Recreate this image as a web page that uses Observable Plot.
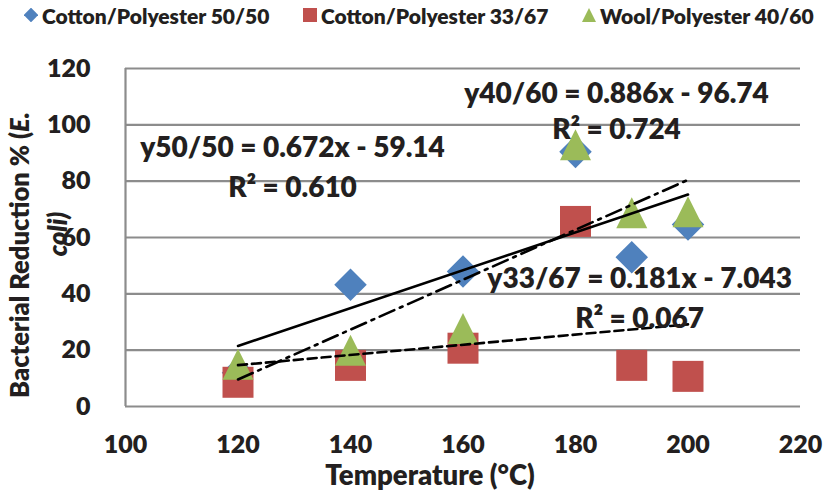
<!DOCTYPE html>
<html>
<head>
<meta charset="utf-8">
<script src="https://cdn.jsdelivr.net/npm/d3@7"></script>
<script src="https://cdn.jsdelivr.net/npm/@observablehq/plot@0.6"></script>
<style>
  html, body { margin: 0; padding: 0; background: #fff; }
  body { width: 830px; height: 498px; overflow: hidden; font-family: Lato, "Open Sans", sans-serif; }
  #legend { height: 30px; position: relative; font-weight: 800; font-size: 21px; color: #231f20; }
  .item { position: absolute; top: 0; height: 30px; display: flex; align-items: center; white-space: nowrap; }
  .item svg { margin-right: 4px; }
  #chart svg { display: block; }
</style>
</head>
<body>
<div id="legend"></div>
<div id="chart"></div>
<script>
// ---- data ----
const temps = [120, 140, 160, 180, 190, 200];
const cp5050 = [12, 43.2, 47.9, 90.4, 53, 64.6];
const cp3367 = [8.6, 14.6, 20.7, 65.7, 14.6, 10.7];
const wp4060 = [15, 20, 27.7, 92.9, 68.8, 69.1];
const seriesNames = ["Cotton/Polyester 50/50", "Cotton/Polyester 33/67", "Wool/Polyester 40/60"];
const eqNames = ["y50/50", "y33/67", "y40/60"];
const slopes = [0.672, 0.181, 0.886];
const intercepts = [-59.14, -7.043, -96.74];
const r2Values = ["0.610", "0.067", "0.724"];
const xTicks = [100, 120, 140, 160, 180, 200, 220];
const yTicks = [0, 20, 40, 60, 80, 100, 120];

// ---- styles ----
const colors = ["#4f81bd", "#c0504d", "#9bbb59"];
const dashes = [null, "9,5", "16,6,3,6"];
const gridColor = "#8c8c8c";
const textColor = "#231f20";
const font = "Lato, 'Open Sans', sans-serif";
const H = 468;

// custom Excel-like symbols; r = half of the bounding box
function half(size) { return Math.sqrt(size / Math.PI); }
const symDiamond = {draw(c, s) { const h = half(s) * 1.05; c.moveTo(0, -h); c.lineTo(h, 0); c.lineTo(0, h); c.lineTo(-h, 0); c.closePath(); }};
const symSquare = {draw(c, s) { const h = half(s); c.rect(-h, -h, 2 * h, 2 * h); }};
const symTriangle = {draw(c, s) { const h = half(s); c.moveTo(0, -h); c.lineTo(h, h); c.lineTo(-h, h); c.closePath(); }};
const symbols = [symDiamond, symSquare, symTriangle];

const seriesValues = [cp5050, cp3367, wp4060];
const points = [];
seriesValues.forEach((vals, si) => vals.forEach((v, i) => points.push({s: si, x: temps[i], y: v})));

const xMin = d3.min(temps), xMax = d3.max(temps);
const trends = seriesNames.map((n, si) => [xMin, xMax].map(x => ({s: si, x, y: slopes[si] * x + intercepts[si]})));

// label anchors (data coordinates)
const eqAnchors = [
  {x: 129.7, y: 91.9, r2y: 77.7},
  {x: 191.4, y: 45.4, r2y: 31.2},
  {x: 187.3, y: 111.1, r2y: 98.0}
];
const eqLabels = [];
seriesNames.forEach((n, si) => {
  eqLabels.push({x: eqAnchors[si].x, y: eqAnchors[si].y, t: `${eqNames[si]} = ${slopes[si]}x - ${Math.abs(intercepts[si])}`});
  eqLabels.push({x: eqAnchors[si].x, y: eqAnchors[si].r2y, t: `R² = ${r2Values[si]}`});
});

const plot = Plot.plot({
  width: 830, height: H,
  marginLeft: 125, marginRight: 30, marginTop: 38, marginBottom: 92,
  style: {fontFamily: font, background: "#fff", overflow: "visible"},
  x: {domain: [100, 220], ticks: xTicks},
  y: {domain: [0, 120], ticks: yTicks},
  marks: [
    Plot.ruleY(yTicks, {stroke: gridColor, strokeWidth: 2.2}),
    Plot.ruleX([100], {stroke: gridColor, strokeWidth: 2.2}),
    Plot.axisX({ticks: xTicks, tickSize: 0, tickPadding: 38, lineAnchor: "middle", label: null,
      fontSize: 25, fontWeight: 800, fill: textColor}),
    Plot.axisY({ticks: yTicks, tickSize: 0, tickPadding: 35, label: null,
      fontSize: 25, fontWeight: 800, fill: textColor}),
    ...[0, 1, 2].map(si => Plot.dot(points.filter(d => d.s === si), {
      x: "x", y: "y", r: 15.5, symbol: () => symbols[si], fill: colors[si], stroke: "none"
    })),
    ...[0, 1, 2].map(si => Plot.line(trends[si], {
      x: "x", y: "y", stroke: "#000", strokeWidth: 2.6, strokeDasharray: dashes[si]
    })),
    Plot.text(eqLabels, {x: "x", y: "y", text: "t", fontSize: 28, fontWeight: 800, fill: textColor})
  ]
});
document.getElementById("chart").appendChild(plot);

// axis titles with mixed styling
const svg = d3.select(plot);
svg.append("text")
  .attr("x", 430).attr("y", 455)
  .attr("text-anchor", "middle")
  .attr("font-size", 27.5).attr("font-weight", 800).attr("fill", textColor)
  .text("Temperature (°C)");
const yt = svg.append("g").attr("font-size", 25.5).attr("font-weight", 800).attr("fill", textColor);
const l1 = yt.append("text").attr("transform", "translate(22,225) rotate(-90)")
  .attr("text-anchor", "middle").attr("dominant-baseline", "middle");
l1.append("tspan").text("Bacterial Reduction % (");
l1.append("tspan").attr("font-style", "italic").text("E.");
yt.append("text").attr("transform", "translate(60,204) rotate(-90)")
  .attr("text-anchor", "middle").attr("dominant-baseline", "middle")
  .attr("font-style", "italic").text("coli)");

// legend
const legend = d3.select("#legend");
const legendX = [24, 303, 582];
const legendSym = [d3.symbol(symDiamond, Math.PI * 49)(), d3.symbol(symSquare, Math.PI * 49)(), d3.symbol(symTriangle, Math.PI * 49)()];
seriesNames.forEach((n, si) => {
  const it = legend.append("div").attr("class", "item").style("left", legendX[si] + "px");
  it.append("svg").attr("width", 14).attr("height", 14).attr("viewBox", "-7 -7 14 14")
    .append("path").attr("d", legendSym[si]).attr("fill", colors[si]);
  it.append("span").text(n);
});
</script>
</body>
</html>
